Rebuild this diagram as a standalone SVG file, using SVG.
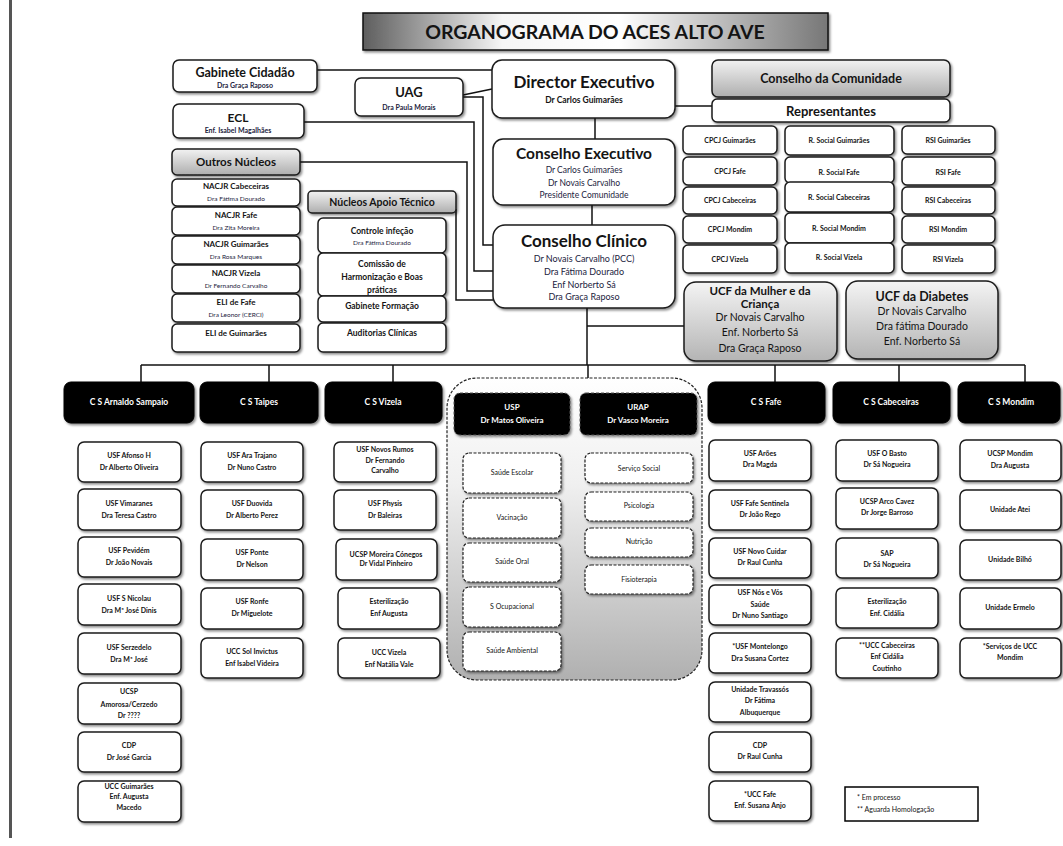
<svg xmlns="http://www.w3.org/2000/svg" width="1063" height="846" viewBox="0 0 1063 846">
<defs>
<filter id="sh" x="-10%" y="-10%" width="130%" height="140%"><feDropShadow dx="1.5" dy="1.8" stdDeviation="1.2" flood-color="#000" flood-opacity="0.45"/></filter>
<linearGradient id="gray" x1="0" y1="0" x2="0" y2="1"><stop offset="0" stop-color="#f2f2f2"/><stop offset="1" stop-color="#aeaeae"/></linearGradient>
<linearGradient id="ucf" x1="0" y1="0" x2="0" y2="1"><stop offset="0" stop-color="#f4f4f4"/><stop offset="1" stop-color="#b4b4b4"/></linearGradient>
<linearGradient id="title" x1="0" y1="0" x2="1" y2="0"><stop offset="0" stop-color="#5e5e5e"/><stop offset="0.3" stop-color="#f6f6f6"/><stop offset="0.55" stop-color="#ffffff"/><stop offset="1" stop-color="#777"/></linearGradient>
<linearGradient id="grp" x1="0" y1="0" x2="0" y2="1"><stop offset="0" stop-color="#ffffff"/><stop offset="0.35" stop-color="#f0f0f0"/><stop offset="1" stop-color="#b0b0b0"/></linearGradient>
</defs>
<style>
.b{fill:#fff;stroke:#1a1a1a;stroke-width:1.5;filter:url(#sh)}
.g{fill:url(#gray);stroke:#1a1a1a;stroke-width:1.5;filter:url(#sh)}
.u{fill:url(#ucf);stroke:#1a1a1a;stroke-width:1.5;filter:url(#sh)}
.k{fill:#000;stroke:#000;stroke-width:1;filter:url(#sh)}
.kd{fill:#000;stroke:#555;stroke-width:1;stroke-dasharray:3 2;filter:url(#sh)}
.d{fill:#fff;stroke:#222;stroke-width:1.2;stroke-dasharray:3 1.5;filter:url(#sh)}
text{font-family:Lato,"Liberation Sans",sans-serif;text-anchor:middle;fill:#141414}
.h{font-weight:700}
.n{fill:#1c2340}
.w{fill:#fff;font-weight:700}
.s{font-size:7px;font-weight:700}
.r{font-size:7px}
.c{fill:none;stroke:#111;stroke-width:1.5}
</style>
<rect x="9" y="0" width="3" height="838" fill="#555"/>

<g id="title"><rect x="363" y="13" width="465" height="37" fill="url(#title)" stroke="#111" stroke-width="1.5" filter="url(#sh)"/><text x="595" y="39" class="h" font-size="19.5" fill="#222">ORGANOGRAMA DO ACES ALTO AVE</text></g>

<g id="connectors">
<path class="c" d="M317,70 H492"/>
<path class="c" d="M463,95 L492,89"/>
<path class="c" d="M463,97 H483 V245 H493"/>
<path class="c" d="M304,122 H474 V271 H493"/>
<path class="c" d="M300,162 H467 V291 H493"/>
<path class="c" d="M456,209 V300 H493"/>
<path class="c" d="M595,118 V139"/>
<path class="c" d="M592,205 V225"/>
<path class="c" d="M675,106 H712"/>
<path class="c" d="M587,308 V365"/>
<path class="c" d="M587,326 H684"/>
<path class="c" d="M141,365 H1025"/>
<path class="c" d="M141,365 V382 M269,365 V382 M393,365 V382 M588,365 V378 M775,365 V382 M899,365 V382 M1025,365 V382"/>
</g>

<g id="gabinete"><rect class="b" x="173" y="60" width="144" height="32" rx="6"/><text x="245" y="77" class="h" font-size="12.5">Gabinete Cidadão</text><text x="245" y="88" class="n s" font-size="6.5">Dra Graça Raposo</text></g>
<g id="uag"><rect class="b" x="355" y="78" width="108" height="38" rx="6"/><text x="409" y="97" class="h" font-size="13">UAG</text><text x="409" y="110" class="n s">Dra Paula Morais</text></g>
<g id="ecl"><rect class="b" x="173" y="104" width="131" height="34" rx="6"/><text x="238" y="122" class="h" font-size="12">ECL</text><text x="238" y="133" class="n s">Enf. Isabel Magalhães</text></g>
<g id="director"><rect class="b" x="492" y="60" width="183" height="58" rx="10"/><text x="584" y="88" class="h" font-size="17">Director Executivo</text><text x="584" y="103" class="h" font-size="8.5">Dr Carlos Guimarães</text></g>
<g id="comunidade"><rect class="g" x="712" y="60" width="238" height="37" rx="6"/><text x="831" y="83" class="h" font-size="12.5">Conselho da Comunidade</text></g>
<g id="representantes"><rect class="b" x="712" y="99" width="238" height="23" rx="5"/><text x="831" y="116" class="h" font-size="13">Representantes</text></g>
<g id="cexec"><rect class="b" x="493" y="139" width="182" height="66" rx="10"/><text x="584" y="159" class="h" font-size="15.5">Conselho Executivo</text><text x="584" y="173" class="n" font-size="8.5">Dr Carlos Guimarães</text><text x="584" y="186" class="n" font-size="8.5">Dr Novais Carvalho</text><text x="584" y="198" class="n" font-size="8.5">Presidente Comunidade</text></g>
<g id="cclinico"><rect class="b" x="493" y="225" width="182" height="83" rx="12"/><text x="584" y="247" class="h" font-size="17">Conselho Clínico</text><text x="584" y="262" class="n" font-size="9">Dr Novais Carvalho (PCC)</text><text x="584" y="275" class="n" font-size="9">Dra Fátima Dourado</text><text x="584" y="288" class="n" font-size="9">Enf Norberto Sá</text><text x="584" y="300" class="n" font-size="9">Dra Graça Raposo</text></g>

<g id="rep1"><rect class="b" x="683" y="126" width="94" height="28" rx="5"/><text x="730" y="143" class="s" font-size="6.5">CPCJ Guimarães</text></g>
<g id="rep2"><rect class="b" x="683" y="157" width="94" height="28" rx="5"/><text x="730" y="174" class="s">CPCJ Fafe</text></g>
<g id="rep3"><rect class="b" x="683" y="187" width="94" height="27" rx="5"/><text x="730" y="203" class="s">CPCJ Cabeceiras</text></g>
<g id="rep4"><rect class="b" x="683" y="216" width="94" height="27" rx="5"/><text x="730" y="232" class="s">CPCJ Mondim</text></g>
<g id="rep5"><rect class="b" x="683" y="245" width="94" height="28" rx="5"/><text x="730" y="262" class="s">CPCJ Vizela</text></g>
<g id="rep6"><rect class="b" x="785" y="126" width="109" height="29" rx="5"/><text x="839" y="143" class="s">R. Social Guimarães</text></g>
<g id="rep7"><rect class="b" x="785" y="157" width="109" height="26" rx="5"/><text x="839" y="175" class="s">R. Social Fafe</text></g>
<g id="rep8"><rect class="b" x="785" y="182" width="109" height="30" rx="5"/><text x="839" y="200" class="s">R. Social Cabeceiras</text></g>
<g id="rep9"><rect class="b" x="785" y="213" width="109" height="30" rx="5"/><text x="839" y="231" class="s">R. Social Mondim</text></g>
<g id="rep10"><rect class="b" x="785" y="243" width="109" height="30" rx="5"/><text x="839" y="260" class="s">R. Social Vizela</text></g>
<g id="rep11"><rect class="b" x="902" y="126" width="93" height="28" rx="5"/><text x="948" y="143" class="s">RSI Guimarães</text></g>
<g id="rep12"><rect class="b" x="902" y="157" width="93" height="28" rx="5"/><text x="948" y="175" class="s">RSI Fafe</text></g>
<g id="rep13"><rect class="b" x="902" y="187" width="93" height="27" rx="5"/><text x="948" y="203" class="s">RSI Cabeceiras</text></g>
<g id="rep14"><rect class="b" x="902" y="216" width="93" height="27" rx="5"/><text x="948" y="232" class="s">RSI Mondim</text></g>
<g id="rep15"><rect class="b" x="902" y="245" width="93" height="28" rx="5"/><text x="948" y="262" class="s">RSI Vizela</text></g>

<g id="ucf-mulher"><rect class="u" x="684" y="282" width="153" height="79" rx="12"/><text x="760" y="295" class="h" font-size="11.5">UCF da Mulher e da</text><text x="760" y="307.5" class="h" font-size="11.5">Criança</text><text x="760" y="321" font-size="10.5">Dr Novais Carvalho</text><text x="760" y="336" font-size="10.5">Enf. Norberto Sá</text><text x="760" y="352" font-size="10.5">Dra Graça Raposo</text></g>
<g id="ucf-diabetes"><rect class="u" x="846" y="281" width="152" height="78" rx="12"/><text x="922" y="301" class="h" font-size="12.5">UCF da Diabetes</text><text x="922" y="315" font-size="10.5">Dr Novais Carvalho</text><text x="922" y="330" font-size="10.5">Dra fátima Dourado</text><text x="922" y="345" font-size="10.5">Enf. Norberto Sá</text></g>

<g id="outros"><rect class="g" x="172" y="149" width="128" height="26" rx="5"/><text x="236" y="166" class="h" font-size="11.5">Outros Núcleos</text></g>
<g id="nacjr-cab"><rect class="b" x="172" y="179" width="128" height="27" rx="5"/><text x="236" y="189" class="h" font-size="8">NACJR  Cabeceiras</text><text x="236" y="201" class="n" font-size="6.5">Dra Fátima Dourado</text></g>
<g id="nacjr-fafe"><rect class="b" x="172" y="207" width="128" height="28" rx="5"/><text x="236" y="218" class="h" font-size="8">NACJR  Fafe</text><text x="236" y="230" class="n" font-size="6.5">Dra Zita Moreira</text></g>
<g id="nacjr-gui"><rect class="b" x="172" y="236" width="128" height="28" rx="5"/><text x="236" y="247" class="h" font-size="8">NACJR  Guimarães</text><text x="236" y="259" class="n" font-size="6.5">Dra Rosa Marques</text></g>
<g id="nacjr-viz"><rect class="b" x="172" y="265" width="128" height="28" rx="5"/><text x="236" y="276" class="h" font-size="8">NACJR  Vizela</text><text x="236" y="288" class="n" font-size="6.5">Dr Fernando Carvalho</text></g>
<g id="eli-fafe"><rect class="b" x="172" y="294" width="128" height="28" rx="5"/><text x="236" y="305" class="h" font-size="8">ELI de Fafe</text><text x="236" y="317" class="n" font-size="6.5">Dra Leonor (CERCI)</text></g>
<g id="eli-gui"><rect class="b" x="172" y="324" width="128" height="28" rx="5"/><text x="236" y="336" class="h" font-size="8">ELI de Guimarães</text></g>

<g id="apoio"><rect class="g" x="308" y="191" width="148" height="22" rx="4"/><text x="382" y="206" class="h" font-size="10.5">Núcleos Apoio Técnico</text></g>
<g id="infecao"><rect class="b" x="318" y="218" width="128" height="35" rx="5"/><text x="382" y="234" class="h" font-size="8.5">Controle infeção</text><text x="382" y="245" class="n" font-size="6.5">Dra Fátima Dourado</text></g>
<g id="comissao"><rect class="b" x="318" y="253" width="128" height="43" rx="5"/><text x="382" y="267" class="h" font-size="8.5">Comissão de</text><text x="382" y="280" class="h" font-size="8.5">Harmonização e  Boas</text><text x="382" y="293" class="h" font-size="8.5">práticas</text></g>
<g id="formacao"><rect class="b" x="318" y="296" width="128" height="26" rx="5"/><text x="382" y="309" class="h" font-size="8.5">Gabinete Formação</text></g>
<g id="auditorias"><rect class="b" x="318" y="323" width="128" height="29" rx="5"/><text x="382" y="336" class="h" font-size="8.5">Auditorias Clínicas</text></g>

<g id="cs-arnaldo"><rect class="k" x="64" y="382" width="130" height="41" rx="7"/><text x="129" y="405" class="w" font-size="8.5">C S Arnaldo Sampaio</text></g>
<g id="cs-taipes"><rect class="k" x="200" y="382" width="118" height="41" rx="7"/><text x="259" y="405" class="w" font-size="8.5">C S  Taipes</text></g>
<g id="cs-vizela"><rect class="k" x="325" y="382" width="117" height="41" rx="7"/><text x="383" y="405" class="w" font-size="8.5">C S Vizela</text></g>
<g id="cs-fafe"><rect class="k" x="708" y="382" width="117" height="41" rx="7"/><text x="766" y="405" class="w" font-size="8.5">C S Fafe</text></g>
<g id="cs-cabeceiras"><rect class="k" x="833" y="382" width="117" height="41" rx="7"/><text x="891" y="405" class="w" font-size="8.5">C S Cabeceiras</text></g>
<g id="cs-mondim"><rect class="k" x="958" y="382" width="102" height="41" rx="7"/><text x="1011" y="405" class="w" font-size="8.5">C S Mondim</text></g>

<g id="usp-urap-group"><rect x="447" y="378" width="255" height="302" rx="30" fill="url(#grp)" stroke="#222" stroke-width="1.2" stroke-dasharray="3 1.5"/></g>
<g id="usp"><rect class="kd" x="454" y="393" width="116" height="42" rx="6"/><text x="512" y="410" class="w" font-size="8">USP</text><text x="512" y="423" class="w" font-size="8">Dr Matos Oliveira</text></g>
<g id="urap"><rect class="kd" x="580" y="393" width="117" height="42" rx="6"/><text x="638" y="410" class="w" font-size="8">URAP</text><text x="638" y="423" class="w" font-size="8">Dr Vasco Moreira</text></g>
<g id="usp1"><rect class="d" x="463" y="453" width="98" height="40" rx="6"/><text x="512" y="475" class="r">Saúde Escolar</text></g>
<g id="usp2"><rect class="d" x="463" y="498" width="98" height="40" rx="6"/><text x="512" y="520" class="r">Vacinação</text></g>
<g id="usp3"><rect class="d" x="463" y="543" width="98" height="39" rx="6"/><text x="512" y="564" class="r">Saúde Oral</text></g>
<g id="usp4"><rect class="d" x="463" y="587" width="98" height="40" rx="6"/><text x="512" y="609" class="r">S Ocupacional</text></g>
<g id="usp5"><rect class="d" x="463" y="632" width="98" height="39" rx="6"/><text x="512" y="653" class="r">Saúde Ambiental</text></g>
<g id="urap1"><rect class="d" x="585" y="453" width="108" height="30" rx="6"/><text x="639" y="471" class="r">Serviço Social</text></g>
<g id="urap2"><rect class="d" x="585" y="492" width="108" height="29" rx="6"/><text x="639" y="508" class="r">Psicologia</text></g>
<g id="urap3"><rect class="d" x="585" y="528" width="108" height="29" rx="6"/><text x="639" y="544" class="r">Nutrição</text></g>
<g id="urap4"><rect class="d" x="585" y="565" width="108" height="29" rx="6"/><text x="639" y="582" class="r">Fisioterapia</text></g>

<g id="a1"><rect class="b" x="78" y="442" width="103" height="40" rx="6"/><text x="129" y="458" class="s">USF Afonso H</text><text x="129" y="470" class="s">Dr Alberto Oliveira</text></g>
<g id="a2"><rect class="b" x="78" y="489" width="103" height="41" rx="6"/><text x="129" y="506" class="s">USF Vimaranes</text><text x="129" y="518" class="s">Dra Teresa Castro</text></g>
<g id="a3"><rect class="b" x="78" y="537" width="103" height="40" rx="6"/><text x="129" y="553" class="s">USF Pevidém</text><text x="129" y="565" class="s">Dr João Novais</text></g>
<g id="a4"><rect class="b" x="78" y="584" width="103" height="41" rx="6"/><text x="129" y="601" class="s">USF S Nicolau</text><text x="129" y="613" class="s">Dra Mª José Dinis</text></g>
<g id="a5"><rect class="b" x="78" y="633" width="103" height="41" rx="6"/><text x="129" y="650" class="s">USF Serzedelo</text><text x="129" y="662" class="s">Dra Mª José</text></g>
<g id="a6"><rect class="b" x="78" y="683" width="103" height="41" rx="6"/><text x="129" y="694" class="s">UCSP</text><text x="129" y="707" class="s">Amorosa/Cerzedo</text><text x="129" y="718" class="s">Dr ????</text></g>
<g id="a7"><rect class="b" x="78" y="732" width="103" height="40" rx="6"/><text x="129" y="748" class="s">CDP</text><text x="129" y="760" class="s">Dr José Garcia</text></g>
<g id="a8"><rect class="b" x="78" y="781" width="103" height="41" rx="6"/><text x="129" y="789" class="s">UCC Guimarães</text><text x="129" y="799" class="s">Enf. Augusta</text><text x="129" y="810" class="s">Macedo</text></g>

<g id="t1"><rect class="b" x="201" y="442" width="102" height="40" rx="6"/><text x="252" y="458" class="s">USF Ara Trajano</text><text x="252" y="470" class="s">Dr Nuno Castro</text></g>
<g id="t2"><rect class="b" x="201" y="490" width="102" height="40" rx="6"/><text x="252" y="506" class="s">USF Duovida</text><text x="252" y="518" class="s">Dr Alberto Perez</text></g>
<g id="t3"><rect class="b" x="201" y="539" width="102" height="41" rx="6"/><text x="252" y="555" class="s">USF Ponte</text><text x="252" y="567" class="s">Dr Nelson</text></g>
<g id="t4"><rect class="b" x="201" y="588" width="102" height="41" rx="6"/><text x="252" y="604" class="s">USF Ronfe</text><text x="252" y="616" class="s">Dr Miguelote</text></g>
<g id="t5"><rect class="b" x="201" y="638" width="102" height="40" rx="6"/><text x="252" y="654" class="s">UCC Sol Invictus</text><text x="252" y="666" class="s">Enf Isabel Videira</text></g>

<g id="v1"><rect class="b" x="334" y="442" width="102" height="40" rx="6"/><text x="385" y="452" class="s">USF Novos Rumos</text><text x="385" y="463" class="s">Dr Fernando</text><text x="385" y="473" class="s">Carvalho</text></g>
<g id="v2"><rect class="b" x="334" y="490" width="102" height="40" rx="6"/><text x="385" y="506" class="s">USF Physis</text><text x="385" y="518" class="s">Dr Baleiras</text></g>
<g id="v3"><rect class="b" x="336" y="539" width="101" height="41" rx="6"/><text x="386" y="557" class="s" font-size="5.8">UCSP Moreira Cónegos</text><text x="386" y="566" class="s" font-size="5.8">Dr Vidal Pinheiro</text></g>
<g id="v4"><rect class="b" x="338" y="588" width="102" height="41" rx="6"/><text x="389" y="604" class="s">Esterilização</text><text x="389" y="616" class="s">Enf Augusta</text></g>
<g id="v5"><rect class="b" x="338" y="638" width="102" height="40" rx="6"/><text x="389" y="655" class="s">UCC Vizela</text><text x="389" y="667" class="s">Enf Natália Vale</text></g>

<g id="f1"><rect class="b" x="709" y="440" width="102" height="41" rx="6"/><text x="760" y="456" class="s">USF Arões</text><text x="760" y="467" class="s">Dra Magda</text></g>
<g id="f2"><rect class="b" x="709" y="490" width="102" height="40" rx="6"/><text x="760" y="506" class="s">USF Fafe Sentinela</text><text x="760" y="517" class="s">Dr João Rego</text></g>
<g id="f3"><rect class="b" x="709" y="538" width="102" height="40" rx="6"/><text x="760" y="554" class="s">USF Novo Cuidar</text><text x="760" y="565" class="s">Dr Raul Cunha</text></g>
<g id="f4"><rect class="b" x="709" y="585" width="102" height="40" rx="6"/><text x="760" y="595" class="s">USF Nós e Vós</text><text x="760" y="607" class="s">Saúde</text><text x="760" y="618" class="s">Dr Nuno Santiago</text></g>
<g id="f5"><rect class="b" x="709" y="633" width="102" height="40" rx="6"/><text x="760" y="649" class="s">*USF Montelongo</text><text x="760" y="661" class="s">Dra Susana Cortez</text></g>
<g id="f6"><rect class="b" x="709" y="682" width="102" height="40" rx="6"/><text x="760" y="692" class="s">Unidade Travassós</text><text x="760" y="703" class="s">Dr Fátima</text><text x="760" y="715" class="s">Albuquerque</text></g>
<g id="f7"><rect class="b" x="709" y="732" width="102" height="40" rx="6"/><text x="760" y="748" class="s">CDP</text><text x="760" y="759" class="s">Dr Raul Cunha</text></g>
<g id="f8"><rect class="b" x="709" y="781" width="102" height="40" rx="6"/><text x="760" y="797" class="s">*UCC Fafe</text><text x="760" y="808" class="s">Enf. Susana Anjo</text></g>

<g id="c1"><rect class="b" x="836" y="440" width="102" height="41" rx="6"/><text x="887" y="456" class="s">USF O Basto</text><text x="887" y="467" class="s">Dr Sá Nogueira</text></g>
<g id="c2"><rect class="b" x="836" y="488" width="102" height="41" rx="6"/><text x="887" y="504" class="s">UCSP Arco Cavez</text><text x="887" y="515" class="s">Dr Jorge Barroso</text></g>
<g id="c3"><rect class="b" x="836" y="538" width="102" height="40" rx="6"/><text x="887" y="556" class="s">SAP</text><text x="887" y="567" class="s">Dr Sá Nogueira</text></g>
<g id="c4"><rect class="b" x="836" y="588" width="102" height="40" rx="6"/><text x="887" y="604" class="s">Esterilização</text><text x="887" y="616" class="s">Enf. Cidália</text></g>
<g id="c5"><rect class="b" x="836" y="638" width="102" height="40" rx="6"/><text x="887" y="648" class="s">**UCC Cabeceiras</text><text x="887" y="659" class="s">Enf Cidália</text><text x="887" y="671" class="s">Coutinho</text></g>

<g id="m1"><rect class="b" x="960" y="440" width="101" height="41" rx="6"/><text x="1010" y="456" class="s">UCSP Mondim</text><text x="1010" y="468" class="s">Dra Augusta</text></g>
<g id="m2"><rect class="b" x="960" y="490" width="101" height="40" rx="6"/><text x="1010" y="512" class="s">Unidade Atei</text></g>
<g id="m3"><rect class="b" x="960" y="540" width="101" height="40" rx="6"/><text x="1010" y="562" class="s">Unidade Bilhó</text></g>
<g id="m4"><rect class="b" x="960" y="588" width="101" height="41" rx="6"/><text x="1010" y="610" class="s">Unidade Ermelo</text></g>
<g id="m5"><rect class="b" x="960" y="638" width="101" height="40" rx="6"/><text x="1010" y="649" class="s">*Serviços de UCC</text><text x="1010" y="660" class="s">Mondim</text></g>

<g id="legend"><rect x="845" y="787" width="133" height="34" fill="#fff" stroke="#000" stroke-width="1.5"/><text x="857" y="800" class="r" style="text-anchor:start">* Em processo</text><text x="857" y="812" class="r" style="text-anchor:start">** Aguarda Homologação</text></g>
</svg>
